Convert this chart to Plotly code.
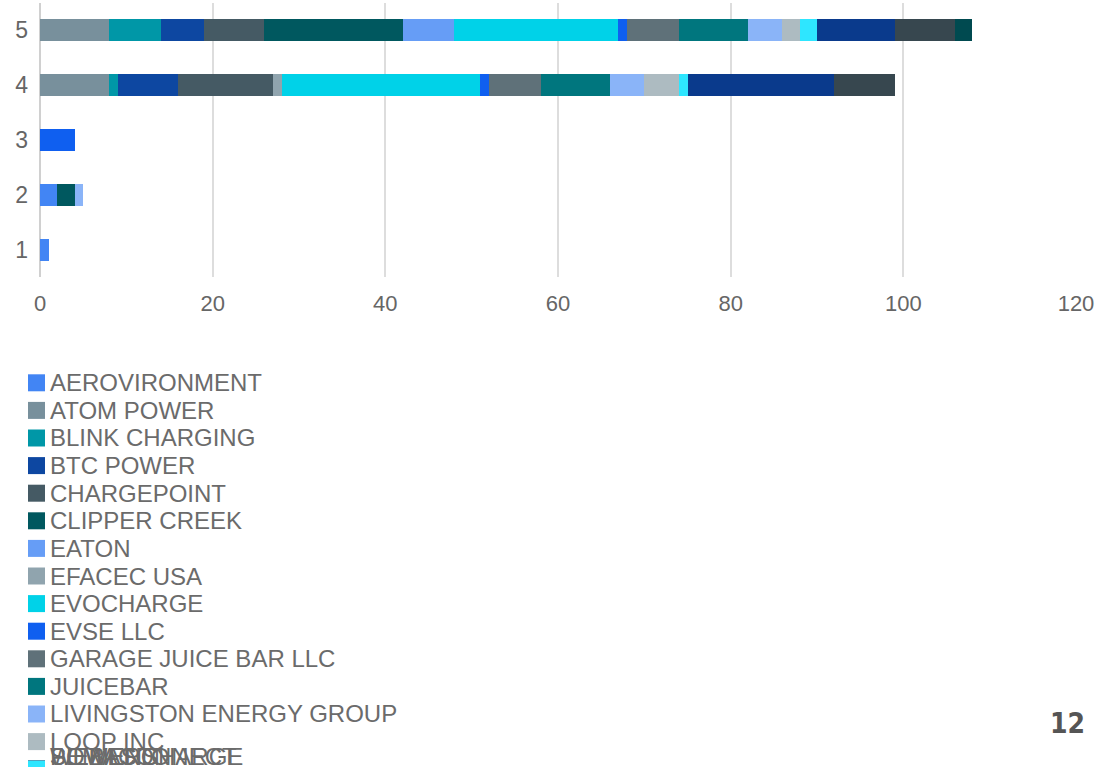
import plotly.graph_objects as go

categories = [1, 2, 3, 4, 5]
tick_labels = ["1", "2", "3", "4", "5"]

series_names = [
    "AEROVIRONMENT", "ATOM POWER", "BLINK CHARGING", "BTC POWER", "CHARGEPOINT",
    "CLIPPER CREEK", "EATON", "EFACEC USA", "EVOCHARGE", "EVSE LLC",
    "GARAGE JUICE BAR LLC", "JUICEBAR", "LIVINGSTON ENERGY GROUP", "LOOP INC",
    "POWERCHARGE", "SEMACONNECT", "SIEMENS", "WEBASTO",
]

aerovironment = [1, 2, 0, 0, 0]
atom_power = [0, 0, 0, 8, 8]
blink_charging = [0, 0, 0, 1, 6]
btc_power = [0, 0, 0, 7, 5]
chargepoint = [0, 0, 0, 11, 7]
clipper_creek = [0, 2, 0, 0, 16]
eaton = [0, 0, 0, 0, 6]
efacec_usa = [0, 0, 0, 1, 0]
evocharge = [0, 0, 0, 23, 19]
evse_llc = [0, 0, 4, 1, 1]
garage_juice_bar = [0, 0, 0, 6, 6]
juicebar = [0, 0, 0, 8, 8]
livingston = [0, 1, 0, 4, 4]
loop_inc = [0, 0, 0, 4, 2]
powercharge = [0, 0, 0, 1, 2]
semaconnect = [0, 0, 0, 17, 9]
siemens = [0, 0, 0, 7, 7]
webasto = [0, 0, 0, 0, 2]

series_values = [
    aerovironment, atom_power, blink_charging, btc_power, chargepoint,
    clipper_creek, eaton, efacec_usa, evocharge, evse_llc,
    garage_juice_bar, juicebar, livingston, loop_inc,
    powercharge, semaconnect, siemens, webasto,
]

colors = [
    "#4285f4", "#78909c", "#0097a7", "#0d47a1", "#455a64",
    "#00585f", "#669df6", "#90a4ae", "#00d2e8", "#0f5ff0",
    "#5f7179", "#00767e", "#8ab4f8", "#adbbc1",
    "#2ee6ff", "#0a3a8c", "#37474f", "#004a50",
]

W, H = 1101, 767
PL, PR, PT, PB = 40, 1076, 3, 277  # plot area in pixels

fig = go.Figure()
for name, vals, col in zip(series_names, series_values, colors):
    fig.add_trace(go.Bar(
        y=categories, x=[v if v else None for v in vals], name=name,
        orientation="h", marker=dict(color=col, line=dict(width=0)),
        width=0.4, showlegend=False,
    ))

def px_x(x):
    return (x - PL) / (PR - PL)

def px_y(y):
    return (PB - y) / (PB - PT)

shapes = []
annotations = []
text_color = "#6b6b6b"
row0, step = 382.8, 27.6
n_rows = 14
entries = list(enumerate(zip(series_names, colors)))
# draw overlapped (clipped) entries in reverse so the first one ends on top
ordered = entries[:n_rows] + entries[n_rows:][::-1]
for i, (name, col) in ordered:
    if i < n_rows:
        yc = row0 + i * step
        ty = yc
    else:
        yc = row0 + n_rows * step
        ty = 756.5
    shapes.append(dict(
        type="rect", xref="paper", yref="paper",
        x0=px_x(28), x1=px_x(45), y0=px_y(yc + 8.5), y1=px_y(yc - 8.5),
        fillcolor=col, line=dict(width=0), layer="above",
    ))
    annotations.append(dict(
        text=name, xref="paper", yref="paper", x=px_x(48), y=px_y(ty),
        xanchor="left", yanchor="middle", showarrow=False,
        font=dict(family="Liberation Sans, Arial, sans-serif", size=24, color=text_color),
    ))

annotations.append(dict(
    text="<b>12</b>", xref="paper", yref="paper", x=px_x(1067), y=px_y(723),
    xanchor="center", yanchor="middle", showarrow=False,
    font=dict(family="DejaVu Sans Condensed, Liberation Sans Narrow, sans-serif", size=28, color="#555555"),
))

fig.update_layout(
    width=W, height=H, barmode="stack",
    margin=dict(l=PL, r=W - PR, t=PT, b=H - PB, pad=0),
    paper_bgcolor="white", plot_bgcolor="white",
    shapes=shapes, annotations=annotations,
    font=dict(family="Liberation Sans, Arial, sans-serif", size=22, color="#666666"),
    xaxis=dict(range=[0, 120], dtick=20, showgrid=True, gridcolor="#dddddd", gridwidth=2,
               zeroline=True, zerolinecolor="#d0d0d0", zerolinewidth=2,
               showline=False, ticks="", ticklabelstandoff=11, fixedrange=True),
    yaxis=dict(range=[0.5, 5.5], tickvals=categories, ticktext=tick_labels,
               showgrid=False, zeroline=False, showline=False, ticks="",
               tickfont=dict(size=23), ticklabelstandoff=11, fixedrange=True),
)

fig.write_html("out.html", config={"displayModeBar": False})
